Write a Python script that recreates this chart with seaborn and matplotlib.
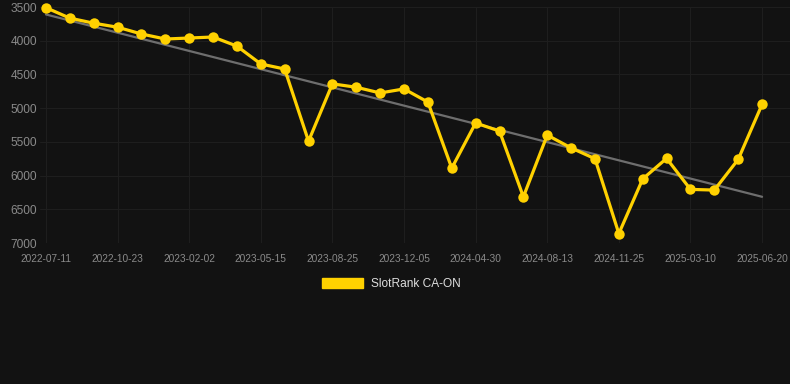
import numpy as np
import pandas as pd
import matplotlib
matplotlib.use("Agg")
import matplotlib.pyplot as plt
from matplotlib.patches import Patch
import seaborn as sns

# rank values (31 points, every 3rd one labelled)
ranks = [3510, 3665, 3740, 3800, 3900, 3975, 3960, 3945, 4080, 4345,
         4420, 5490, 4640, 4690, 4775, 4715, 4910, 5890, 5220, 5340,
         6315, 5400, 5590, 5750, 6860, 6050, 5745, 6205, 6215, 5760,
         4945]
tick_labels = ["2022-07-11", "2022-10-23", "2023-02-02", "2023-05-15",
               "2023-08-25", "2023-12-05", "2024-04-30", "2024-08-13",
               "2024-11-25", "2025-03-10", "2025-06-20"]
series_name = "SlotRank CA-ON"

df = pd.DataFrame({"idx": np.arange(len(ranks)), "rank": ranks})

bg = "#121212"
yellow = "#FFD100"

sns.set_theme(style="dark")
plt.rcParams["font.family"] = ["Liberation Sans", "DejaVu Sans"]

fig = plt.figure(figsize=(7.9, 3.84), dpi=100, facecolor=bg)
ax = fig.add_axes([40 / 790, 1 - 243 / 384, 750 / 790, 236 / 384])
ax.set_facecolor(bg)

# trend line (linear fit)
sns.regplot(data=df, x="idx", y="rank", scatter=False, ci=None, ax=ax,
            line_kws={"color": "#6e6e6e", "lw": 1.6, "zorder": 2})

sns.lineplot(data=df, x="idx", y="rank", ax=ax, color=yellow, lw=2.3,
             marker="o", markersize=7.5, markeredgewidth=0, zorder=3,
             clip_on=False)

ax.set_xlim(-0.25, 31.17)
ax.set_ylim(7000, 3500)
ax.set_yticks(np.arange(3500, 7001, 500))
ax.set_xticks(np.arange(0, len(ranks), 3))
ax.set_xticklabels(tick_labels)
ax.set_xlabel("")
ax.set_ylabel("")
ax.grid(True, color="#1e1e1e", lw=0.8)
for s in ax.spines.values():
    s.set_visible(False)
ax.tick_params(axis="y", length=0, pad=2, labelsize=8.6, labelcolor="#8a8a8a")
ax.tick_params(axis="x", length=0, pad=8, labelsize=7.3, labelcolor="#8a8a8a")

handle = Patch(facecolor=yellow, edgecolor=yellow, label=series_name)
fig.legend(handles=[handle], loc="center", bbox_to_anchor=(391 / 790, 1 - 284 / 384),
           frameon=False, fontsize=8.6, labelcolor="#dddddd",
           handlelength=3.5, handleheight=1.0, handletextpad=0.6)

fig.savefig("out.png", dpi=100, facecolor=bg)
